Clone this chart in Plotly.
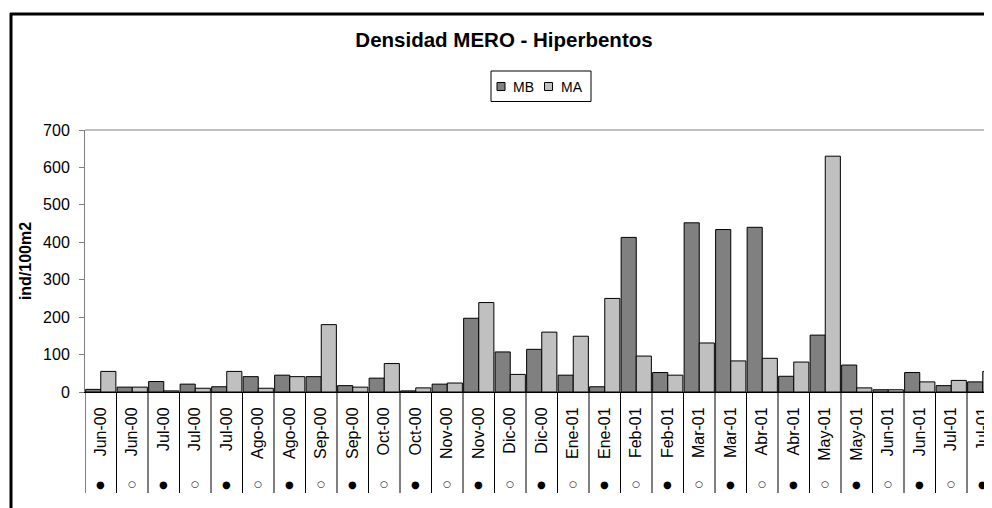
import plotly.graph_objects as go

meses = ['Jun-00', 'Jun-00', 'Jul-00', 'Jul-00', 'Jul-00', 'Ago-00', 'Ago-00',
         'Sep-00', 'Sep-00', 'Oct-00', 'Oct-00', 'Nov-00', 'Nov-00', 'Dic-00',
         'Dic-00', 'Ene-01', 'Ene-01', 'Feb-01', 'Feb-01', 'Mar-01', 'Mar-01',
         'Abr-01', 'Abr-01', 'May-01', 'May-01', 'Jun-01', 'Jun-01', 'Jul-01',
         'Jul-01']
marcas = ['●', '○', '●', '○', '●', '○', '●', '○', '●', '○', '●', '○', '●', '○',
          '●', '○', '●', '○', '●', '○', '●', '○', '●', '○', '●', '○', '●', '○',
          '●']
mb = [7, 13, 28, 21, 14, 41, 45, 41, 17, 37, 3, 21, 197, 107, 114, 45, 14,
      413, 52, 452, 434, 440, 42, 152, 72, 6, 52, 17, 27]
ma = [55, 13, 3, 10, 55, 10, 41, 180, 13, 76, 11, 24, 239, 47, 160, 149, 250,
      96, 45, 131, 83, 90, 80, 630, 11, 6, 27, 31, 55]
series = ['MB', 'MA']
colores = ['#808080', '#C0C0C0']

# geometry in window pixels; the page body adds an 8px margin
OFF = 8
W, H = 992 - OFF, 508 - OFF
L, R, T, B = 85 - OFF, 992 - OFF, 130 - OFF, 392 - OFF
CAT_PX = 31.5


def px_x(p):
    return (p - OFF - L) / (R - L)


def px_y(p):
    return (B - (p - OFF)) / (B - T)


FONT = 'Liberation Sans, Arial, sans-serif'
idx = list(range(len(meses)))

fig = go.Figure()
for name, vals, col in zip(series, [mb, ma], colores):
    fig.add_trace(go.Bar(x=idx, y=vals, name=name, showlegend=False,
                         marker=dict(color=col, line=dict(color='black', width=1))))

shapes = []
annotations = []
# category dividers below the axis
for i in range(len(meses) + 1):
    shapes.append(dict(type='line', xref='x', yref='paper', x0=i - 0.5, x1=i - 0.5,
                       y0=0, y1=px_y(493), line=dict(color='black', width=1)))
# dots under the month labels
for i, m in zip(idx, marcas):
    annotations.append(dict(x=i, y=px_y(484), xref='x', yref='paper', text=m,
                            showarrow=False, xanchor='center', yanchor='middle',
                            font=dict(family='DejaVu Sans', size=10 if m == '●' else 9,
                                      color='black')))
# top line of plot area
shapes.append(dict(type='line', xref='paper', yref='paper', x0=0, x1=1, y0=1, y1=1,
                   line=dict(color='#808080', width=1)))
# outer chart frame (left and top)
shapes.append(dict(type='line', xref='paper', yref='paper', x0=px_x(11), x1=px_x(11),
                   y0=px_y(13), y1=px_y(520), line=dict(color='black', width=3)))
shapes.append(dict(type='line', xref='paper', yref='paper', x0=px_x(10), x1=px_x(1000),
                   y0=px_y(14), y1=px_y(14), line=dict(color='black', width=3)))

# legend box
shapes.append(dict(type='rect', xref='paper', yref='paper', x0=px_x(491), x1=px_x(591),
                   y0=px_y(71), y1=px_y(101.5), line=dict(color='black', width=1),
                   fillcolor='white'))
for k, (name, col) in enumerate(zip(series, colores)):
    sx = 501 + 47.5 * k
    shapes.append(dict(type='rect', xref='paper', yref='paper',
                       x0=px_x(sx - 4), x1=px_x(sx + 4), y0=px_y(82.5), y1=px_y(90.5),
                       fillcolor=col, line=dict(color='black', width=1)))
    annotations.append(dict(x=px_x(sx + 10), y=px_y(86.5), xref='paper', yref='paper',
                            text=name, showarrow=False, xanchor='left', yanchor='middle',
                            font=dict(size=14)))

fig.update_layout(
    width=W, height=H,
    margin=dict(l=L, r=W - R, t=T, b=H - B, pad=0),
    paper_bgcolor='white', plot_bgcolor='white',
    font=dict(family=FONT, color='black', size=15),
    title=dict(text='<b>Densidad MERO - Hiperbentos</b>', x=(504 - OFF) / W, xanchor='center',
               y=1 - (40 - OFF) / H, yanchor='middle', font=dict(size=20.5)),
    barmode='group', bargap=0.04, bargroupgap=0,
    showlegend=False,
    xaxis=dict(
        range=[-0.5, -0.5 + (R - L) / CAT_PX],
        tickvals=idx, ticktext=meses, tickangle=-90,
        ticks='', showgrid=False, zeroline=False,
        showline=True, linecolor='black', linewidth=1,
        tickfont=dict(size=16), ticklabelstandoff=8,
    ),
    yaxis=dict(
        range=[0, 700], dtick=100, showgrid=False, zeroline=False,
        showline=True, linecolor='#808080', linewidth=1,
        ticks='outside', ticklen=5, tickcolor='#808080',
        tickfont=dict(size=16), ticklabelstandoff=6,
        title=dict(text='<b>ind/100m2</b>', font=dict(size=16), standoff=7),
    ),
    shapes=shapes,
    annotations=annotations,
)

fig.write_html('out.html')
